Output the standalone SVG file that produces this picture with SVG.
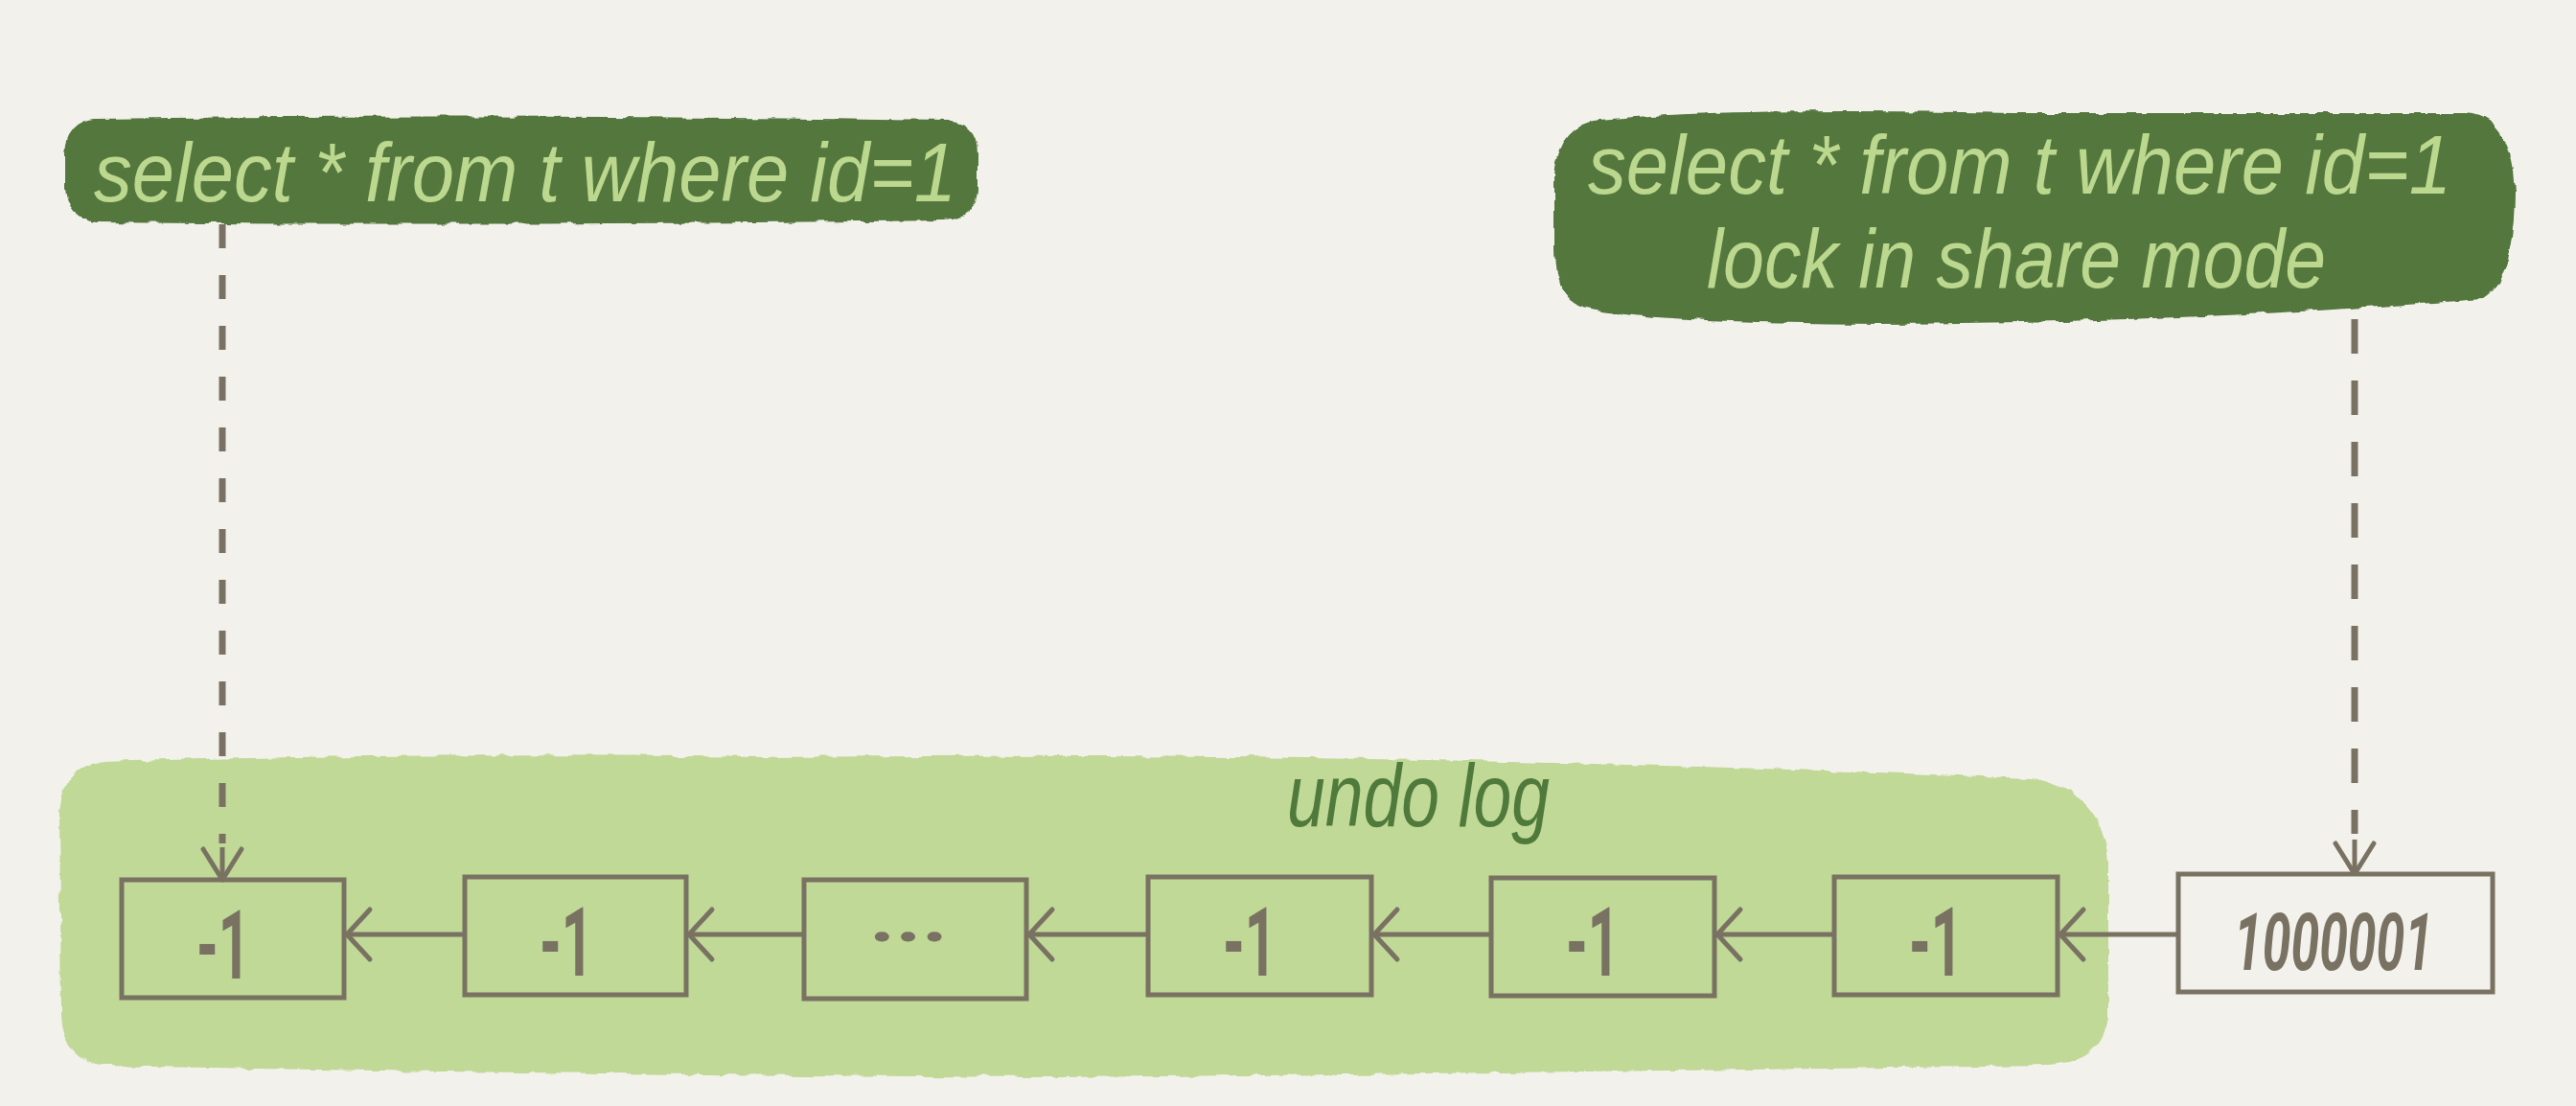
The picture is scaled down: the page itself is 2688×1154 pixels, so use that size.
<svg xmlns="http://www.w3.org/2000/svg" width="2688" height="1154" viewBox="0 0 2688 1154">
  <defs>
    <filter id="rough" x="-5%" y="-10%" width="110%" height="120%">
      <feTurbulence type="fractalNoise" baseFrequency="0.06" numOctaves="2" seed="3" result="n"/>
      <feDisplacementMap in="SourceGraphic" in2="n" scale="7" xChannelSelector="R" yChannelSelector="G"/>
    </filter>
    <marker id="chev" viewBox="0 0 32 60" refX="28" refY="30" markerWidth="32" markerHeight="60" markerUnits="userSpaceOnUse" orient="auto">
      <path d="M4 4 L28 30 L4 56" fill="none" stroke="#797262" stroke-width="5" stroke-linecap="round" stroke-linejoin="round"/>
    </marker>
    <marker id="down" viewBox="0 0 40 50" refX="37" refY="25" markerWidth="40" markerHeight="50" markerUnits="userSpaceOnUse" orient="auto">
      <path d="M5 5 L37 25 L5 45" fill="none" stroke="#797262" stroke-width="5" stroke-linecap="round" stroke-linejoin="round"/>
    </marker>
  </defs>
  <style>
    .sql { fill: #bcd88f; font-family: "Liberation Sans", "DejaVu Sans", sans-serif; font-size: 88px; font-style: italic; }
    .box { fill: none; stroke: #797262; stroke-width: 5; }
    .val { fill: #797262; font-family: Roboto, "Open Sans", sans-serif; font-weight: bold; text-anchor: middle; }
    .link { stroke: #797262; stroke-width: 5; fill: none; }
    .dash { stroke: #797262; stroke-width: 7; fill: none; }
  </style>
  <rect x="0" y="0" width="2688" height="1154" fill="#f3f1ec"/>

  <g id="undo-log-area">
    <path filter="url(#rough)" fill="#c0d997" d="M110 795 Q400 785 800 790 Q1400 783 2120 812 Q2195 825 2200 900 L2200 1060 Q2195 1108 2140 1112 Q1700 1118 1100 1124 Q500 1120 110 1112 Q66 1106 64 1060 L62 850 Q64 800 110 795 Z"/>
    <text x="1480" y="862" text-anchor="middle" textLength="274" lengthAdjust="spacingAndGlyphs" style="fill:#4f7a3b;font-family:'Liberation Sans','DejaVu Sans',sans-serif;font-size:92px;font-style:italic">undo log</text>
  </g>

  <g id="query1">
    <path filter="url(#rough)" fill="#52773e" d="M100 124 Q500 118 990 126 Q1020 130 1020 160 L1020 198 Q1018 228 985 230 Q500 236 100 232 Q70 228 68 196 L68 160 Q70 126 100 124 Z"/>
    <text class="sql" x="98" y="210" textLength="900" lengthAdjust="spacingAndGlyphs">select * from t where id=1</text>
  </g>

  <g id="query2">
    <path filter="url(#rough)" fill="#52773e" d="M1670 125 Q1800 112 2100 118 Q2400 118 2575 118 Q2622 125 2625 200 Q2625 290 2590 312 Q2300 336 1960 338 Q1700 336 1650 320 Q1622 310 1622 260 L1622 180 Q1628 130 1670 125 Z"/>
    <text class="sql" x="1657" y="202" textLength="901" lengthAdjust="spacingAndGlyphs">select * from t where id=1</text>
    <text class="sql" x="1781" y="300" textLength="646" lengthAdjust="spacingAndGlyphs">lock in share mode</text>
  </g>

  <g id="connectors">
    <line class="dash" x1="232" y1="234" x2="232" y2="880" stroke-dasharray="25 28"/>
    <path class="link" d="M232 884 L232 918" marker-end="url(#down)"/>
    <line class="dash" x1="2457" y1="333" x2="2457" y2="870" stroke-dasharray="36 28"/>
    <path class="link" d="M2457 876 L2457 912" marker-end="url(#down)"/>
    <path class="link" d="M485 975 L362 975" marker-end="url(#chev)"/>
    <path class="link" d="M839 975 L719 975" marker-end="url(#chev)"/>
    <path class="link" d="M1198 975 L1074 975" marker-end="url(#chev)"/>
    <path class="link" d="M1556 975 L1434 975" marker-end="url(#chev)"/>
    <path class="link" d="M1914 975 L1792 975" marker-end="url(#chev)"/>
    <path class="link" d="M2273 975 L2150 975" marker-end="url(#chev)"/>
  </g>

  <g id="v1">
    <rect class="box" x="127" y="918" width="232" height="123"/>
    <text class="val" x="233" y="1021" font-size="100" textLength="56" lengthAdjust="spacingAndGlyphs">-1</text>
  </g>
  <g id="v2">
    <rect class="box" x="485" y="915" width="231" height="123"/>
    <text class="val" x="591" y="1018" font-size="100" textLength="56" lengthAdjust="spacingAndGlyphs">-1</text>
  </g>
  <g id="v3">
    <rect class="box" x="839" y="918" width="232" height="124"/>
    <text class="val" x="948" y="982" font-size="70" textLength="82" lengthAdjust="spacingAndGlyphs">...</text>
  </g>
  <g id="v4">
    <rect class="box" x="1198" y="915" width="233" height="123"/>
    <text class="val" x="1304" y="1018" font-size="100" textLength="56" lengthAdjust="spacingAndGlyphs">-1</text>
  </g>
  <g id="v5">
    <rect class="box" x="1556" y="916" width="233" height="123"/>
    <text class="val" x="1662" y="1018" font-size="100" textLength="56" lengthAdjust="spacingAndGlyphs">-1</text>
  </g>
  <g id="v6">
    <rect class="box" x="1914" y="915" width="233" height="123"/>
    <text class="val" x="2020" y="1018" font-size="100" textLength="56" lengthAdjust="spacingAndGlyphs">-1</text>
  </g>
  <g id="v7">
    <rect class="box" x="2273" y="912" width="328" height="123" style="fill:#f3f1ec"/>
    <text class="val" x="2435" y="1012" font-size="84" font-style="italic" textLength="208" lengthAdjust="spacingAndGlyphs">1000001</text>
  </g>
</svg>
